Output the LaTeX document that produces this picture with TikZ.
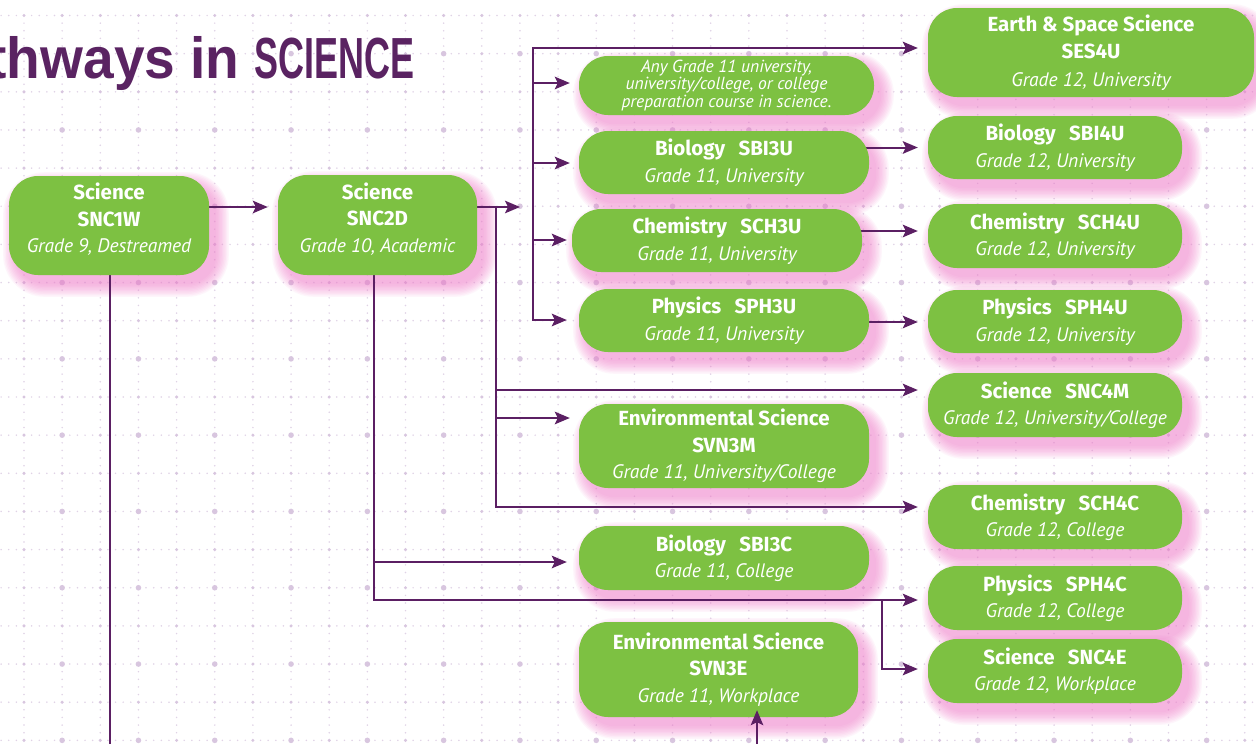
\documentclass[tikz,border=0pt]{standalone}
\usepackage{fontspec}
\setmainfont{PT Sans}
\newfontfamily\boldfont{Fira Sans}
\newfontfamily\titlefontA[FakeStretch=0.95]{Liberation Sans}
\newfontfamily\titlefontB[FakeStretch=0.62]{Liberation Sans}
\usetikzlibrary{arrows.meta,calc}
\definecolor{boxgreen}{HTML}{7DC142}
\definecolor{linepurple}{HTML}{5B1F63}
\definecolor{titlepurple}{HTML}{5A2362}
\definecolor{glowpink}{HTML}{F27CCB}
\definecolor{griddot}{HTML}{E0D2E6}
\definecolor{gridbig}{HTML}{D8C6DF}
\pgfdeclarelayer{gridlayer}
\pgfdeclarelayer{glowlayer}
\pgfdeclarelayer{linelayer}
\pgfsetlayers{gridlayer,glowlayer,linelayer,main}
\newcommand{\hd}[1]{{\boldfont\bfseries\fontsize{20.5}{26.5}\selectfont #1}}
\newcommand{\sub}[1]{{\itshape #1}}
\newcommand{\gap}{\hspace{0.65em}}
\tikzset{
  box/.style={fill=boxgreen, text=white, align=center, inner sep=0pt,
    rounded corners=29pt, font=\fontsize{19.5}{26.5}\selectfont},
  smallbox/.style={box, font=\fontsize{17.5}{17.5}\selectfont},
  conn/.style={draw=linepurple, line width=2pt},
  arr/.style={conn, -{Stealth[length=15pt,width=12.5pt,inset=3pt]}, shorten >=10pt},
  griddots/.style={draw=griddot, line width=1.7pt, line cap=round, dash pattern=on 0pt off 7.63pt},
}
\begin{document}
\begin{tikzpicture}[x=1pt,y=-1pt]
\useasboundingbox (0,0) rectangle (1256,744);
\clip (0,0) rectangle (1256,744);

% grid
\begin{pgfonlayer}{gridlayer}
\fill[white] (0,0) rectangle (1256,744);
\foreach \i in {0,...,32} {
  \draw[griddots] ({24+38.15*\i},15.5) -- ({24+38.15*\i},760);
}
\foreach \j in {0,...,19} {
  \draw[griddots] (-14.15,{15.5+38.15*\j}) -- (1270,{15.5+38.15*\j});
}
\foreach \i in {0,...,32} {
  \foreach \j in {0,...,19} {
    \fill[gridbig] ({24+38.15*\i},{15.5+38.15*\j}) circle (1.7pt);
  }
}
\foreach \i in {1,3,...,31} {
  \foreach \j in {1,3,...,19} {
    \fill[gridbig] ({24+38.15*\i},{15.5+38.15*\j}) circle (2.8pt);
  }
}
\end{pgfonlayer}

% title
\node[anchor=base east, text=titlepurple, inner sep=0pt] (title) at (415,78)
  {{\titlefontA\bfseries\fontsize{58}{60}\selectfont Pathways in }{\titlefontB\bfseries\fontsize{58}{60}\selectfont SCIENCE}};

% boxes
\node[box, minimum width=200pt, minimum height=99pt] (snc1w) at (109,225.5)
  {\hd{Science}\\\hd{SNC1W}\\\sub{Grade 9, Destreamed}\\[-11pt]\mbox{}};
\node[box, minimum width=199pt, minimum height=100pt] (snc2d) at (377.5,225)
  {\hd{Science}\\\hd{SNC2D}\\\sub{Grade 10, Academic}\\[-11pt]\mbox{}};
\node[smallbox, minimum width=295pt, minimum height=59pt] (any) at (726.5,85.5)
  {\sub{Any Grade 11 university,}\\\sub{university/college, or college}\\\sub{preparation course in science.}};
\node[box, minimum width=290pt, minimum height=63pt] (sbi3u) at (724,162.5)
  {\hd{Biology\gap SBI3U}\\\sub{Grade 11, University}};
\node[box, minimum width=290pt, minimum height=63pt] (sch3u) at (717,240.5)
  {\hd{Chemistry\gap SCH3U}\\\sub{Grade 11, University}};
\node[box, minimum width=290pt, minimum height=63pt] (sph3u) at (724,320.5)
  {\hd{Physics\gap SPH3U}\\\sub{Grade 11, University}};
\node[box, minimum width=326pt, minimum height=89pt, font=\fontsize{19.5}{27.5}\selectfont] (ses4u) at (1091,52.5)
  {\hd{Earth \& Space Science}\\\hd{SES4U}\\\sub{Grade 12, University}};
\node[box, minimum width=254pt, minimum height=63pt] (sbi4u) at (1055,147.5)
  {\hd{Biology\gap SBI4U}\\\sub{Grade 12, University}};
\node[box, minimum width=254pt, minimum height=64pt] (sch4u) at (1055,236)
  {\hd{Chemistry\gap SCH4U}\\\sub{Grade 12, University}};
\node[box, minimum width=254pt, minimum height=63pt] (sph4u) at (1055,321.5)
  {\hd{Physics\gap SPH4U}\\\sub{Grade 12, University}};
\node[box, minimum width=254pt, minimum height=64pt] (snc4m) at (1055,405)
  {\hd{Science\gap SNC4M}\\\sub{Grade 12, University/College}};
\node[box, minimum width=290pt, minimum height=84pt] (svn3m) at (724,446)
  {\hd{Environmental Science}\\\hd{SVN3M}\\\sub{Grade 11, University/College}};
\node[box, minimum width=254pt, minimum height=64pt] (sch4c) at (1055,517)
  {\hd{Chemistry\gap SCH4C}\\\sub{Grade 12, College}};
\node[box, minimum width=290pt, minimum height=64pt] (sbi3c) at (724,558)
  {\hd{Biology\gap SBI3C}\\\sub{Grade 11, College}};
\node[box, minimum width=254pt, minimum height=64pt] (sph4c) at (1055,598)
  {\hd{Physics\gap SPH4C}\\\sub{Grade 12, College}};
\node[box, minimum width=279pt, minimum height=95pt] (svn3e) at (718.5,669.5)
  {\hd{Environmental Science}\\\hd{SVN3E}\\\sub{Grade 11, Workplace}};
\node[box, minimum width=254pt, minimum height=64pt] (snc4e) at (1055,671)
  {\hd{Science\gap SNC4E}\\\sub{Grade 12, Workplace}};

% glow
\begin{pgfonlayer}{glowlayer}
\foreach \n in {snc1w,snc2d,any,sbi3u,sch3u,sph3u,ses4u,sbi4u,sch4u,sph4u,snc4m,svn3m,sch4c,sbi3c,sph4c,svn3e,snc4e} {
  \foreach \k in {0,...,9} {
    \pgfmathsetmacro\ee{1.4*\k}
    \pgfmathsetmacro\rr{29+\ee}
    \fill[glowpink, opacity=0.075, rounded corners=\rr pt]
      ([shift={(7-\ee,9-\ee)}]\n.north west) rectangle ([shift={(7+\ee,9+\ee)}]\n.south east);
  }
}
\end{pgfonlayer}

% connector coordinates
\coordinate (t1) at (533,207);
\coordinate (t1top) at (533,48);
\coordinate (t1bot) at (533,320);
\coordinate (t2) at (496,207);
\coordinate (t2bot) at (496,507);
\coordinate (t3bot) at (374,600);
\coordinate (t4) at (882,600);
\coordinate (t4bot) at (882,669);
\coordinate (s1end) at (110,744);
\coordinate (e3end) at (757,744);

\begin{pgfonlayer}{linelayer}
\draw[arr] (snc1w.east |- t1) -- (snc2d.west |- t1);
\draw[arr, shorten >=13pt] ($(snc2d.east |- t1)+(-4,0)$) -- (t1);
\draw[conn] (t1top) -- (t1bot);
\draw[arr] ($(t1top)+(-1,0)$) -- (ses4u.west |- t1top);
\draw[arr, shorten >=9pt] (t1 |- 0,83) -- (any.west |- 0,83);
\draw[arr, shorten >=9pt] (t1 |- 0,163) -- (sbi3u.west |- 0,163);
\draw[arr, shorten >=5pt] (t1 |- 0,240) -- (sch3u.west |- 0,240);
\draw[arr, shorten >=12pt] ($(t1bot)+(-1,0)$) -- (sph3u.west |- t1bot);
\draw[conn] (t2) -- (t2bot);
\draw[arr] (t2 |- 0,390) -- (snc4m.west |- 0,390);
\draw[arr, shorten >=9pt] (t2 |- 0,418) -- (svn3m.west |- 0,418);
\draw[arr] ($(t2bot)+(-1,0)$) -- (sch4c.west |- t2bot);
\draw[conn] ($(t3bot |- snc2d.south)+(0,-4)$) -- ($(t3bot)+(0,1)$);
\draw[arr, shorten >=12pt] (t3bot |- 0,562) -- (sbi3c.west |- 0,562);
\draw[arr] ($(t3bot)+(-1,0)$) -- (sph4c.west |- t3bot);
\draw[arr] (t4) |- (snc4e.west |- t4bot);
\draw[conn] ($(s1end |- snc1w.south)+(0,-4)$) -- (s1end);
\draw[arr] ($(sbi4u.west -| sbi3u.east)+(-6,0)$) -- (sbi4u.west);
\draw[arr] ($(sch3u.east |- 0,231)+(-6,0)$) -- (sch4u.west |- 0,231);
\draw[arr] ($(sph3u.east |- 0,322)+(-6,0)$) -- (sph4u.west |- 0,322);
\end{pgfonlayer}
\draw[arr, shorten >=-7pt] (e3end) -- (svn3e.south -| e3end);
\end{tikzpicture}
\end{document}
